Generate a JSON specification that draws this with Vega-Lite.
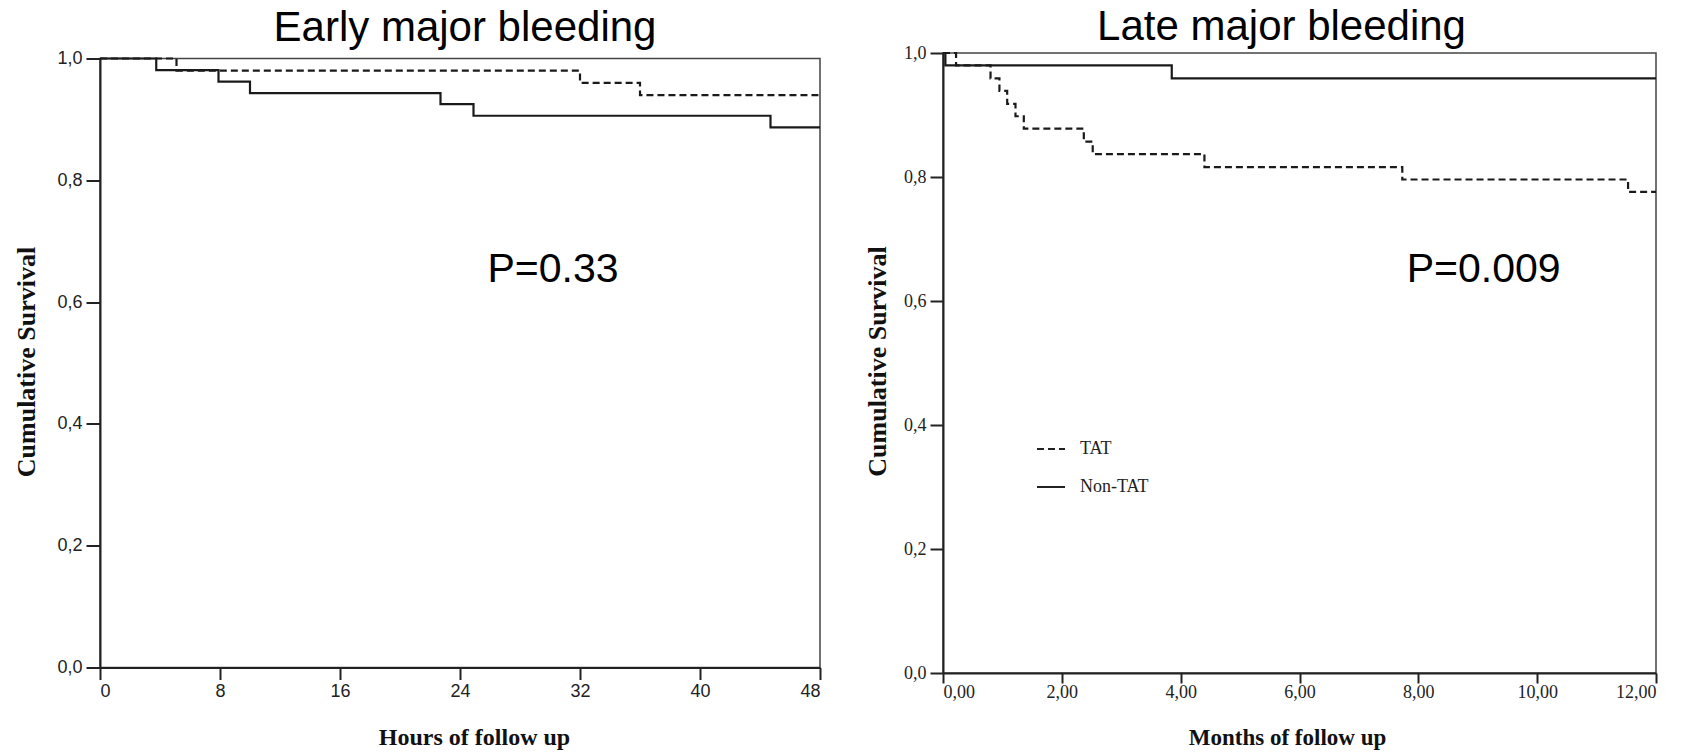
{
  "$schema": "https://vega.github.io/schema/vega-lite/v6.json",
  "background": "white",
  "padding": {"left": 12, "top": 5, "right": 5, "bottom": 5},
  "bounds": "flush",
  "center": true,
  "spacing": 123,
  "config": {
    "view": {"stroke": "#444", "strokeWidth": 1.5},
    "axis": {
      "grid": false,
      "domainColor": "#222",
      "domainWidth": 2,
      "tickColor": "#222",
      "tickWidth": 2,
      "labelColor": "#222",
      "titleColor": "#111",
      "titleFont": "Liberation Serif",
      "titleFontWeight": "bold",
      "titleFontSize": 26
    }
  },
  "datasets": {
    "early": [
      {"hours": 0, "surv": 1.0, "group": "TAT"},
      {"hours": 5.1, "surv": 0.98, "group": "TAT"},
      {"hours": 32.0, "surv": 0.96, "group": "TAT"},
      {"hours": 36.0, "surv": 0.94, "group": "TAT"},
      {"hours": 48, "surv": 0.94, "group": "TAT"},
      {"hours": 0, "surv": 1.0, "group": "Non-TAT"},
      {"hours": 3.75, "surv": 0.981, "group": "Non-TAT"},
      {"hours": 7.9, "surv": 0.962, "group": "Non-TAT"},
      {"hours": 10.0, "surv": 0.943, "group": "Non-TAT"},
      {"hours": 22.7, "surv": 0.925, "group": "Non-TAT"},
      {"hours": 24.9, "surv": 0.906, "group": "Non-TAT"},
      {"hours": 44.7, "surv": 0.887, "group": "Non-TAT"},
      {"hours": 48, "surv": 0.887, "group": "Non-TAT"}
    ],
    "late": [
      {"months": 0, "surv": 1.0, "group": "TAT"},
      {"months": 0.22, "surv": 0.98, "group": "TAT"},
      {"months": 0.8, "surv": 0.959, "group": "TAT"},
      {"months": 0.95, "surv": 0.939, "group": "TAT"},
      {"months": 1.08, "surv": 0.918, "group": "TAT"},
      {"months": 1.22, "surv": 0.898, "group": "TAT"},
      {"months": 1.36, "surv": 0.878, "group": "TAT"},
      {"months": 2.37, "surv": 0.857, "group": "TAT"},
      {"months": 2.52, "surv": 0.837, "group": "TAT"},
      {"months": 4.4, "surv": 0.816, "group": "TAT"},
      {"months": 7.73, "surv": 0.796, "group": "TAT"},
      {"months": 11.53, "surv": 0.776, "group": "TAT"},
      {"months": 12, "surv": 0.776, "group": "TAT"},
      {"months": 0, "surv": 1.0, "group": "Non-TAT"},
      {"months": 0.04, "surv": 0.98, "group": "Non-TAT"},
      {"months": 3.85, "surv": 0.959, "group": "Non-TAT"},
      {"months": 12, "surv": 0.959, "group": "Non-TAT"}
    ],
    "early_p": [{"hours": 30.2, "surv": 0.6535, "label": "P=0.33"}],
    "late_p": [{"months": 9.1, "surv": 0.65, "label": "P=0.009"}]
  },
  "resolve": {
    "scale": {"x": "independent", "y": "independent", "strokeDash": "independent"},
    "legend": {"strokeDash": "independent"}
  },
  "hconcat": [
    {
      "width": 720,
      "height": 609,
      "title": {
        "text": "Early major bleeding",
        "font": "Liberation Sans",
        "fontSize": 42,
        "fontWeight": "normal",
        "color": "#000",
        "anchor": "middle",
        "frame": "group",
        "baseline": "alphabetic",
        "offset": -33,
        "dx": 5
      },
      "layer": [
        {
          "data": {"name": "early"},
          "mark": {"type": "line", "interpolate": "step-after", "color": "#1a1a1a", "strokeWidth": 2.2},
          "encoding": {
            "x": {
              "field": "hours",
              "type": "quantitative",
              "scale": {"domain": [0, 48], "nice": false, "zero": false},
              "axis": {
                "values": [0, 8, 16, 24, 32, 40, 48],
                "format": "d",
                "labelFont": "Liberation Sans",
                "labelFontSize": 18,
                "tickSize": 12,
                "labelPadding": 3,
                "title": "Hours of follow up",
                "titleFontSize": 24,
                "titleX": 374,
                "titleY": 77,
                "titleAlign": "center",
                "titleBaseline": "alphabetic"
              }
            },
            "y": {
              "field": "surv",
              "type": "quantitative",
              "scale": {"domain": [0, 1], "nice": false},
              "axis": {
                "values": [0, 0.2, 0.4, 0.6, 0.8, 1.0],
                "labelExpr": "replace(format(datum.value, '.1f'), '.', ',')",
                "labelFont": "Liberation Sans",
                "labelFontSize": 18,
                "tickSize": 14,
                "labelPadding": 4,
                "title": "Cumulative Survival",
                "titleAngle": -90,
                "titleX": -66,
                "titleY": 303,
                "titleAlign": "center",
                "titleBaseline": "alphabetic"
              }
            },
            "strokeDash": {
              "field": "group",
              "type": "nominal",
              "scale": {"domain": ["TAT", "Non-TAT"], "range": [[7, 4], [1, 0]]},
              "legend": null
            }
          }
        },
        {
          "data": {"name": "early_p"},
          "mark": {"type": "text", "font": "Liberation Sans", "fontSize": 41, "color": "#000", "align": "center", "baseline": "middle"},
          "encoding": {
            "x": {"field": "hours", "type": "quantitative"},
            "y": {"field": "surv", "type": "quantitative"},
            "text": {"field": "label"}
          }
        }
      ]
    },
    {
      "width": 713,
      "height": 620,
      "title": {
        "text": "Late major bleeding",
        "font": "Liberation Sans",
        "fontSize": 42,
        "fontWeight": "normal",
        "color": "#000",
        "anchor": "middle",
        "frame": "group",
        "baseline": "alphabetic",
        "offset": -38,
        "dx": -18
      },
      "layer": [
        {
          "data": {"name": "late"},
          "mark": {"type": "line", "interpolate": "step-after", "color": "#1a1a1a", "strokeWidth": 2.2},
          "encoding": {
            "x": {
              "field": "months",
              "type": "quantitative",
              "scale": {"domain": [0, 12], "nice": false, "zero": false},
              "axis": {
                "values": [0, 2, 4, 6, 8, 10, 12],
                "labelExpr": "replace(format(datum.value, '.2f'), '.', ',')",
                "labelFont": "Liberation Serif",
                "labelFontSize": 18,
                "tickSize": 10,
                "labelPadding": 0,
                "title": "Months of follow up",
                "titleFontSize": 23,
                "titleX": 344,
                "titleY": 71,
                "titleAlign": "center",
                "titleBaseline": "alphabetic"
              }
            },
            "y": {
              "field": "surv",
              "type": "quantitative",
              "scale": {"domain": [0, 1], "nice": false},
              "axis": {
                "values": [0, 0.2, 0.4, 0.6, 0.8, 1.0],
                "labelExpr": "replace(format(datum.value, '.1f'), '.', ',')",
                "labelFont": "Liberation Serif",
                "labelFontSize": 18,
                "tickSize": 13,
                "labelPadding": 4,
                "title": "Cumulative Survival",
                "titleAngle": -90,
                "titleX": -58,
                "titleY": 308,
                "titleAlign": "center",
                "titleBaseline": "alphabetic"
              }
            },
            "strokeDash": {
              "field": "group",
              "type": "nominal",
              "scale": {"domain": ["TAT", "Non-TAT"], "range": [[7, 4], [1, 0]]},
              "legend": {
                "title": null,
                "orient": "none",
                "legendX": 93,
                "legendY": 381,
                "padding": 0,
                "symbolType": "stroke",
                "symbolSize": 784,
                "symbolStrokeWidth": 2,
                "symbolStrokeColor": "#222",
                "labelFont": "Liberation Serif",
                "labelFontSize": 18,
                "labelColor": "#222",
                "labelOffset": 14,
                "rowPadding": 14
              }
            }
          }
        },
        {
          "data": {"name": "late_p"},
          "mark": {"type": "text", "font": "Liberation Sans", "fontSize": 41, "color": "#000", "align": "center", "baseline": "middle"},
          "encoding": {
            "x": {"field": "months", "type": "quantitative"},
            "y": {"field": "surv", "type": "quantitative"},
            "text": {"field": "label"}
          }
        }
      ]
    }
  ]
}
